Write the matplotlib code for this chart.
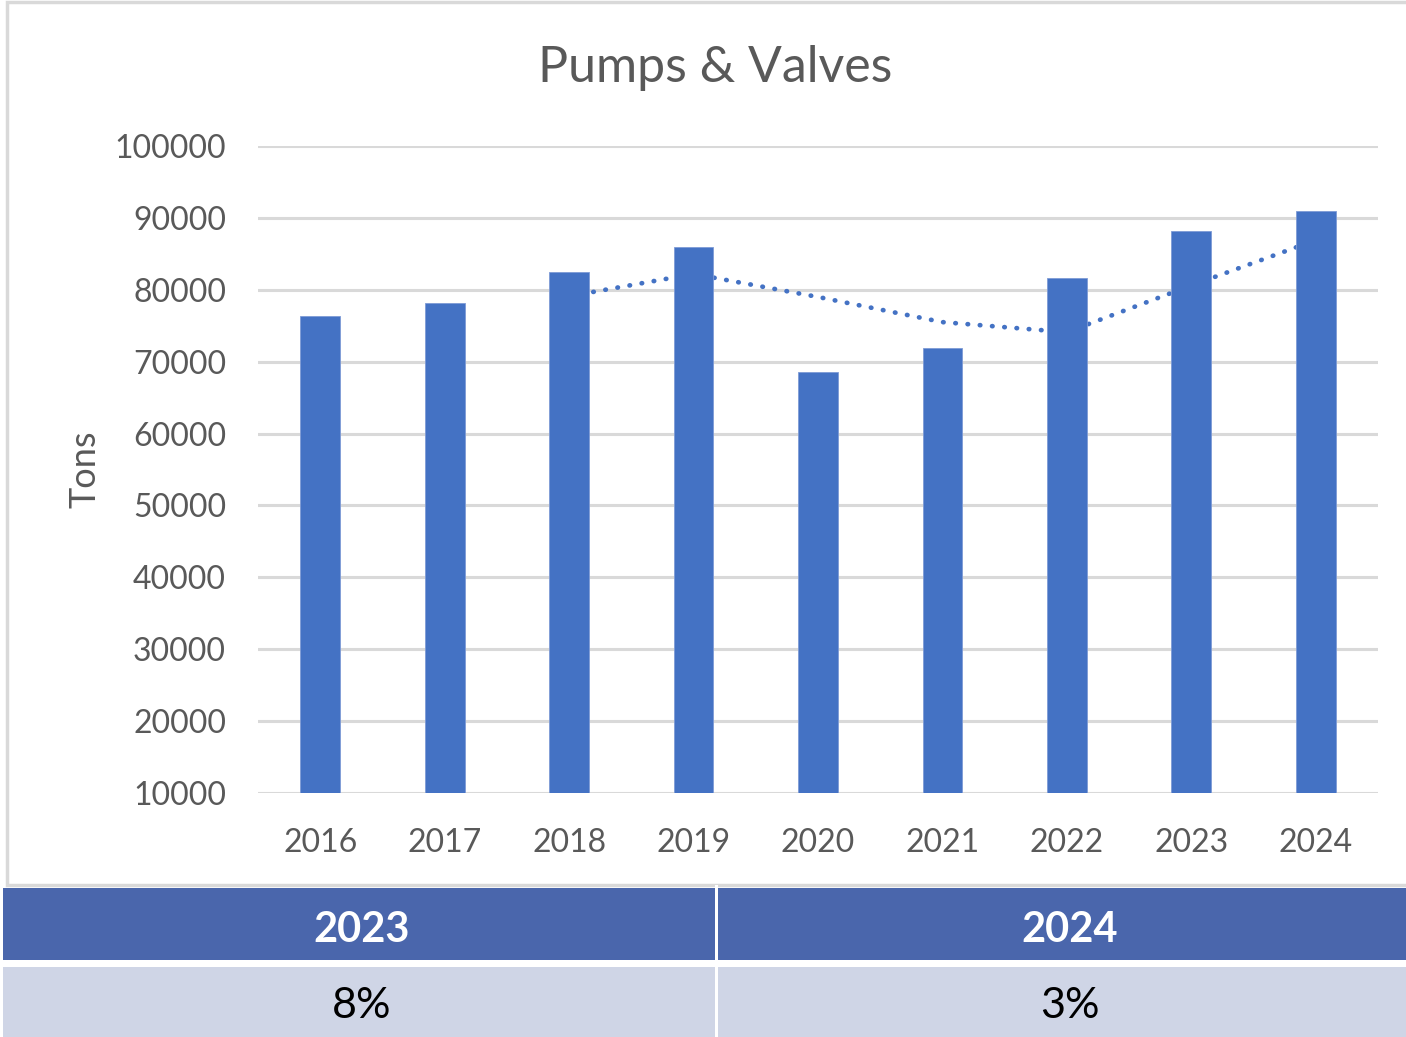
import matplotlib.pyplot as plt
from matplotlib.patches import Rectangle

W, H = 1406, 1037

years = ["2016", "2017", "2018", "2019", "2020", "2021", "2022", "2023", "2024"]
tons = [76400, 78200, 82500, 85900, 68500, 71900, 81700, 88200, 90900]
# 3-period moving average trendline (2018..2024)
trend_years = ["2018", "2019", "2020", "2021", "2022", "2023", "2024"]
trend_tons = [79100, 82200, 79000, 75500, 74100, 80600, 86900]
table_head = ["2023", "2024"]
table_vals = ["8%", "3%"]

BLUE = "#4472C4"
GREY = "#595959"
FONT = ["Lato", "DejaVu Sans"]
plt.rcParams["font.family"] = FONT


def px(x0, y0, x1, y1):
    # pixel box (top-left origin) -> figure fraction rect
    return [x0 / W, 1 - y1 / H, (x1 - x0) / W, (y1 - y0) / H]


def fig_rect(fig, x0, y0, x1, y1, **kw):
    l, b, w, h = px(x0, y0, x1, y1)
    fig.add_artist(Rectangle((l, b), w, h, transform=fig.transFigure, zorder=-5, **kw))


fig = plt.figure(figsize=(W / 100, H / 100), dpi=100)

# chart frame
fig_rect(fig, 7, 2, 1410, 885, facecolor="white", edgecolor="#D9D9D9", linewidth=2.5)

ax = fig.add_axes(px(258, 146, 1378, 793))
ax.set_zorder(2)
ax.set_facecolor("none")
x = list(range(len(years)))
ax.bar(x, tons, width=0.32, bottom=0, color=BLUE, edgecolor="#7E9BD6", linewidth=0.6, zorder=3)
tx = [years.index(y) for y in trend_years]
ax.plot(tx, trend_tons, color=BLUE, linewidth=3.4, linestyle=(0, (0.1, 2.5)),
        dash_capstyle="round", zorder=2)

ax.set_xlim(-0.5, len(years) - 0.5)
ax.set_ylim(10000, 100000)
ax.set_yticks(range(10000, 100001, 10000))
ax.set_xticks(x)
ax.set_xticklabels(years)
ax.yaxis.grid(True, color="#D9D9D9", linewidth=2.2, zorder=0)
ax.set_axisbelow(True)
for s in ax.spines.values():
    s.set_visible(False)
ax.tick_params(length=0, labelsize=23, colors=GREY)
ax.tick_params(axis="y", pad=23)
ax.tick_params(axis="x", pad=25)
ax.set_ylabel("Tons", fontsize=26, color=GREY)
ax.yaxis.set_label_coords(-0.14, 0.5)

fig.text(715 / W, 1 - 68 / H, "Pumps & Valves", ha="center", va="center",
         fontsize=36, color=GREY)

# summary table
fig_rect(fig, 3, 888, 1410, 960, facecolor="#4A66AC", edgecolor="none")
fig_rect(fig, 3, 967, 1410, 1040, facecolor="#CFD5E6", edgecolor="none")
fig_rect(fig, 715, 885, 718, 1040, facecolor="white", edgecolor="none")
for cx, head, val in zip([362, 1070], table_head, table_vals):
    fig.text(cx / W, 1 - 930 / H, head, ha="center", va="center",
             fontsize=30, fontweight="bold", color="white")
    fig.text(cx / W, 1 - 1006 / H, val, ha="center", va="center",
             fontsize=31, color="black")

fig.savefig("out.png", dpi=100)
